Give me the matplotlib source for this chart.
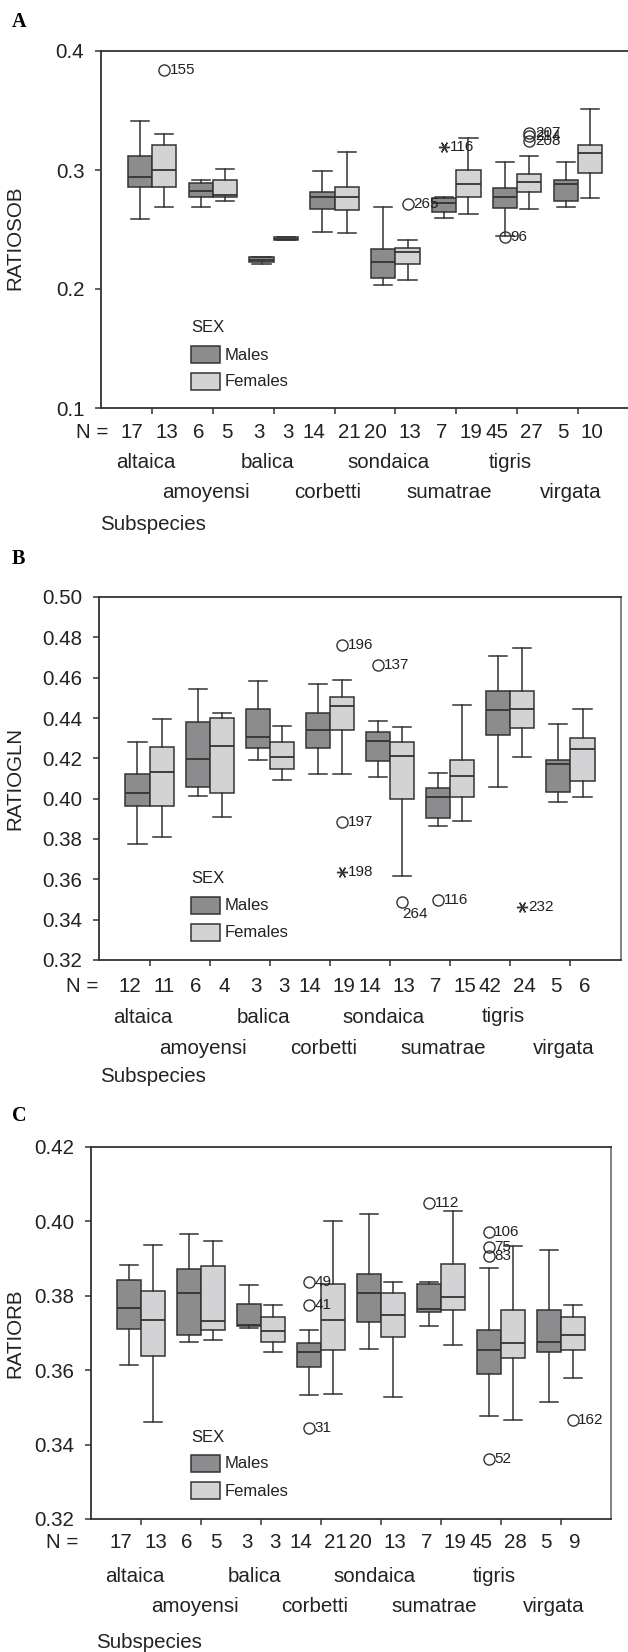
import matplotlib
matplotlib.use("Agg")
import matplotlib.pyplot as plt
from matplotlib.patches import Rectangle
from matplotlib import transforms

plt.rcParams['font.family'] = ['Liberation Sans', 'DejaVu Sans']

# ---------------- data ----------------
subspecies = ["altaica", "amoyensi", "balica", "corbetti",
              "sondaica", "sumatrae", "tigris", "virgata"]
sexes = ["Males", "Females"]

# order of boxes: altaica M, altaica F, amoyensi M, amoyensi F, ...
A_whishi = [0.3414, 0.3305, 0.2916, 0.3011, 0.2267, 0.2437, 0.2992, 0.3154,
            0.2687, 0.2415, 0.2770, 0.3266, 0.3065, 0.3120, 0.3065, 0.3515]
A_q3 = [0.3120, 0.3207, 0.2894, 0.2916, 0.2267, 0.2435, 0.2815, 0.2860,
        0.2339, 0.2347, 0.2762, 0.3000, 0.2846, 0.2969, 0.2916, 0.3207]
A_med = [0.2944, 0.3000, 0.2826, 0.2786, 0.2244, 0.2423, 0.2776, 0.2773,
         0.2230, 0.2314, 0.2720, 0.2882, 0.2776, 0.2902, 0.2880, 0.3140]
A_q1 = [0.2860, 0.2860, 0.2773, 0.2775, 0.2224, 0.2412, 0.2672, 0.2661,
        0.2090, 0.2210, 0.2645, 0.2771, 0.2683, 0.2813, 0.2740, 0.2978]
A_whislo = [0.2588, 0.2687, 0.2687, 0.2740, 0.2208, 0.2410, 0.2479, 0.2468,
            0.2034, 0.2076, 0.2600, 0.2630, 0.2448, 0.2672, 0.2687, 0.2762]
A_n = [17, 13, 6, 5, 3, 3, 14, 21, 20, 13, 7, 19, 45, 27, 5, 10]
A_out_box = [1, 9, 10, 12, 13, 13, 13]
A_out_val = [0.3840, 0.2712, 0.3197, 0.2436, 0.3308, 0.3282, 0.3245]
A_out_lab = ["155", "265", "116", "96", "207", "214", "208"]
A_out_ext = [False, False, True, False, False, False, False]

B_whishi = [0.4283, 0.4395, 0.4545, 0.4426, 0.4583, 0.4362, 0.4570, 0.4590,
            0.4387, 0.4355, 0.4126, 0.4466, 0.4707, 0.4747, 0.4370, 0.4445]
B_q3 = [0.4121, 0.4258, 0.4382, 0.4402, 0.4445, 0.4283, 0.4426, 0.4506,
        0.4329, 0.4280, 0.4054, 0.4192, 0.4535, 0.4535, 0.4192, 0.4302]
B_med = [0.4030, 0.4134, 0.4198, 0.4263, 0.4307, 0.4205, 0.4340, 0.4461,
         0.4284, 0.4212, 0.4010, 0.4114, 0.4440, 0.4446, 0.4172, 0.4245]
B_q1 = [0.3964, 0.3964, 0.4059, 0.4027, 0.4250, 0.4146, 0.4250, 0.4340,
        0.4187, 0.3997, 0.3906, 0.4010, 0.4316, 0.4349, 0.4035, 0.4088]
B_whislo = [0.3775, 0.3808, 0.4015, 0.3911, 0.4192, 0.4093, 0.4121, 0.4121,
            0.4107, 0.3617, 0.3866, 0.3891, 0.4059, 0.4205, 0.3982, 0.4010]
B_n = [12, 11, 6, 4, 3, 3, 14, 19, 14, 13, 7, 15, 42, 24, 5, 6]
B_out_box = [7, 8, 7, 7, 9, 10, 13]
B_out_val = [0.4760, 0.4661, 0.3886, 0.3636, 0.3488, 0.3498, 0.3464]
B_out_lab = ["196", "137", "197", "198", "264", "116", "232"]
B_out_ext = [False, False, False, True, False, False, True]

C_whishi = [0.3883, 0.3937, 0.3966, 0.3948, 0.3829, 0.3774, 0.3707, 0.4002,
            0.4020, 0.3836, 0.3836, 0.4029, 0.3876, 0.3934, 0.3922, 0.3774]
C_q3 = [0.3843, 0.3814, 0.3872, 0.3879, 0.3779, 0.3742, 0.3673, 0.3833,
        0.3858, 0.3807, 0.3833, 0.3886, 0.3709, 0.3762, 0.3762, 0.3744]
C_med = [0.3767, 0.3735, 0.3807, 0.3731, 0.3722, 0.3706, 0.3648, 0.3736,
         0.3807, 0.3749, 0.3764, 0.3797, 0.3655, 0.3673, 0.3676, 0.3695]
C_q1 = [0.3711, 0.3637, 0.3695, 0.3709, 0.3718, 0.3676, 0.3609, 0.3655,
        0.3730, 0.3688, 0.3756, 0.3762, 0.3591, 0.3634, 0.3648, 0.3655]
C_whislo = [0.3615, 0.3460, 0.3677, 0.3681, 0.3713, 0.3648, 0.3532, 0.3536,
            0.3656, 0.3528, 0.3718, 0.3669, 0.3478, 0.3467, 0.3514, 0.3579]
C_n = [17, 13, 6, 5, 3, 3, 14, 21, 20, 13, 7, 19, 45, 28, 5, 9]
C_out_box = [6, 6, 6, 10, 12, 12, 12, 12, 15]
C_out_val = [0.3836, 0.3774, 0.3445, 0.4049, 0.3972, 0.3932, 0.3906, 0.3360, 0.3467]
C_out_lab = ["49", "41", "31", "112", "106", "75", "83", "52", "162"]
C_out_ext = [False] * 9

A_ylim = (0.1, 0.4)
A_yticks = [0.1, 0.2, 0.3, 0.4]
B_ylim = (0.32, 0.50)
B_yticks = [0.32, 0.34, 0.36, 0.38, 0.40, 0.42, 0.44, 0.46, 0.48, 0.50]
C_ylim = (0.32, 0.42)
C_yticks = [0.32, 0.34, 0.36, 0.38, 0.40, 0.42]

# ---------------- style ----------------
W, H = 628, 1652
fig = plt.figure(figsize=(W / 100, H / 100), dpi=100)
male_c = "#8c8c8e"
female_c = "#d3d3d5"
line_c = "#333333"
FS = 14.8
FS_LEG = 12.0
FS_OUT = 11.0


def fy(y):
    return 1 - y / H


def fx(x):
    return x / W


def panel(letter, left, right, top, bottom, ylim, yticks, fmt, ylabel,
          whislo, q1, med, q3, whishi, n, out_box, out_val, out_lab, out_ext,
          ylab_y, n_y, r1_y, r2_y, sub_y, sub_x, neq_x, leg_y, letter_y,
          right_spine=True, special=None):
    ax = fig.add_axes([fx(left), fy(bottom), fx(right) - fx(left), fy(top) - fy(bottom)])
    ng = len(subspecies)
    positions = []
    for g in range(ng):
        positions += [g + 1 - 0.2, g + 1 + 0.2]
    stats = []
    for i in range(len(med)):
        stats.append(dict(whislo=whislo[i], q1=q1[i], med=med[i], q3=q3[i],
                          whishi=whishi[i], fliers=[]))
    bp = ax.bxp(stats, positions=positions, widths=0.4, capwidths=0.3,
                patch_artist=True, showfliers=False,
                boxprops=dict(edgecolor=line_c, linewidth=1.1),
                medianprops=dict(color=line_c, linewidth=1.3),
                whiskerprops=dict(color=line_c, linewidth=1.1),
                capprops=dict(color=line_c, linewidth=1.1))
    for i, b in enumerate(bp['boxes']):
        b.set_facecolor(male_c if i % 2 == 0 else female_c)
    # outliers
    for b, v, lab, ext in zip(out_box, out_val, out_lab, out_ext):
        x = positions[b]
        if ext:
            ax.plot([x], [v], marker=(6, 2, 90), ms=8, color=line_c, mew=1.0,
                    linestyle='none', clip_on=False)
        else:
            ax.plot([x], [v], marker='o', ms=8, mfc='none', mec=line_c, mew=1.0,
                    linestyle='none', clip_on=False)
        off = (4, 0)
        ha, va = 'left', 'center'
        if special and lab in special:
            off = special[lab]
            ha, va = 'left', 'top'
        ax.annotate(lab, (x, v), xytext=off, textcoords='offset points',
                    ha=ha, va=va, fontsize=FS_OUT, color='#222222')
    ax.set_xlim(1 - 0.84, ng + 0.84)
    ax.set_ylim(*ylim)
    ax.set_yticks(yticks)
    ax.set_yticklabels([fmt.format(t) for t in yticks])
    ax.set_xticks(range(1, ng + 1))
    ax.set_xticklabels([])
    ax.tick_params(axis='both', direction='out', length=4, width=1.1,
                   color=line_c, labelsize=FS, labelcolor='#222222', pad=8)
    for s in ax.spines.values():
        s.set_linewidth(1.3)
        s.set_color('#333333')
    if not right_spine:
        ax.spines['right'].set_visible(False)
    ax.spines['right'].set_color('#777777')

    # text rows below
    tr = transforms.blended_transform_factory(ax.transData, fig.transFigure)
    px = (ng + 1.68) / (right - left)  # data units per pixel
    fig.text(fx(neq_x), fy(n_y), "N =", ha='left', va='center', fontsize=FS, color='#222222')
    for i, v in enumerate(n):
        if i % 2 == 0:
            ax.text(positions[i] + 3 * px, fy(n_y), str(v), transform=tr,
                    ha='right', va='center', fontsize=FS, color='#222222')
        else:
            ax.text(positions[i] + 2 * px, fy(n_y), str(v), transform=tr,
                    ha='center', va='center', fontsize=FS, color='#222222')
    for g, name in enumerate(subspecies):
        yy = r1_y if g % 2 == 0 else r2_y
        ax.text(g + 1 - 6 * px, fy(yy), name, transform=tr, ha='center',
                va='center', fontsize=FS, color='#222222')
    fig.text(fx(sub_x), fy(sub_y), "Subspecies", ha='left', va='center',
             fontsize=FS, color='#222222')
    fig.text(fx(15), fy(ylab_y), ylabel, rotation=90, ha='center', va='center',
             fontsize=FS, color='#222222')
    fig.text(fx(12), fy(letter_y), letter, ha='left', va='center',
             fontsize=14.5, fontweight='bold', family='Liberation Serif')

    # legend
    fig.text(fx(191), fy(leg_y), "SEX", ha='left', va='center',
             fontsize=FS_LEG, color='#222222')
    for k, (lab, col) in enumerate(zip(sexes, [male_c, female_c])):
        y0 = leg_y + 18 + k * 27
        fig.add_artist(Rectangle((fx(191), fy(y0 + 17)), fx(29), 17 / H,
                                 transform=fig.transFigure, facecolor=col,
                                 edgecolor=line_c, linewidth=1.1))
        fig.text(fx(225), fy(y0 + 9), lab, ha='left', va='center',
                 fontsize=FS_LEG, color='#222222')
    return ax


panel("A", 101, 629, 51, 408, A_ylim, A_yticks, "{:.1f}", "RATIOSOB",
      A_whislo, A_q1, A_med, A_q3, A_whishi, A_n,
      A_out_box, A_out_val, A_out_lab, A_out_ext,
      ylab_y=238, n_y=432, r1_y=463, r2_y=493, sub_y=525, sub_x=100,
      neq_x=76, leg_y=328, letter_y=22, right_spine=False)

panel("B", 99, 621, 597, 960, B_ylim, B_yticks, "{:.2f}", "RATIOGLN",
      B_whislo, B_q1, B_med, B_q3, B_whishi, B_n,
      B_out_box, B_out_val, B_out_lab, B_out_ext,
      ylab_y=779, n_y=987, r1_y=1017, r2_y=1048, sub_y=1077, sub_x=100,
      neq_x=66, leg_y=879, letter_y=559, special={"264": (0, -4)})

panel("C", 91, 611, 1147, 1519, C_ylim, C_yticks, "{:.2f}", "RATIORB",
      C_whislo, C_q1, C_med, C_q3, C_whishi, C_n,
      C_out_box, C_out_val, C_out_lab, C_out_ext,
      ylab_y=1333, n_y=1543, r1_y=1577, r2_y=1606, sub_y=1642, sub_x=96,
      neq_x=46, leg_y=1437, letter_y=1116)

fig.savefig("out.png", dpi=100)
